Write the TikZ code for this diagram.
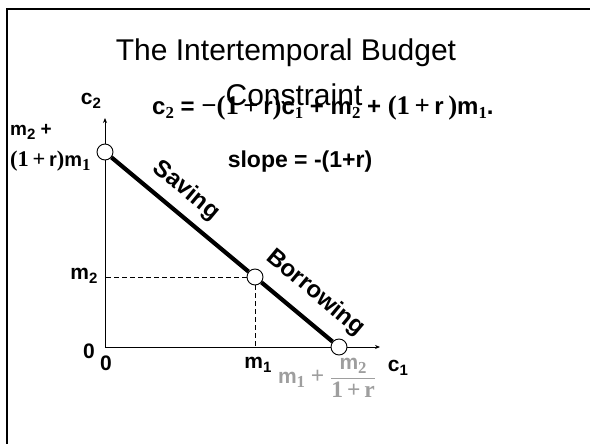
\documentclass[tikz,border=0pt]{standalone}
\usepackage{fontspec}
\setmainfont{Liberation Sans}
\newfontfamily\tnr{Liberation Serif}[Scale=1.12]
\usetikzlibrary{positioning, arrows.meta}
\tikzset{
  lbl/.style={font=\fontsize{21}{23}\selectfont\bfseries, inner sep=0pt},
  small/.style={font=\fontsize{19}{21}\selectfont\bfseries},
  slopelbl/.style={lbl, font=\fontsize{24}{26}\selectfont\bfseries, sloped},
  titlefont/.style={font=\fontsize{30}{36}\selectfont, inner sep=0pt, anchor=base},
  pt/.style={circle, draw=black, fill=white, minimum size=16pt, inner sep=0pt, line width=0.9pt},
  axis/.style={-{Stealth[length=5pt,width=4pt]}, line width=0.9pt},
  budget/.style={line width=4.2pt},
  guide/.style={dash pattern=on 5pt off 3pt, line width=0.9pt},
}
\newcommand{\sbs}[1]{\raisebox{-0.35ex}{\fontsize{15}{16}\selectfont #1}}

\begin{document}
\begin{tikzpicture}[x=1pt, y=-1pt]
  \useasboundingbox (0,0) rectangle (590,444);
  % slide frame
  \draw[line width=2.5pt] (590,9) -- (7,9) -- (7,444);
  % title
  \node[titlefont] (title1) at (286,61) {The Intertemporal Budget};
  \node[titlefont] (title2) at (294,106) {Constraint};
  % axes
  \coordinate (O) at (105,347);
  \coordinate (ytip) at (105,118);
  \coordinate (xtip) at (380,347);
  \draw[axis] (O) -- (ytip);
  \draw[axis] (O) -- (xtip);
  % points on the constraint
  \node[pt] (top) at (105,152) {};
  \node[pt] (mid) at (255,277) {};
  \node[pt] (end) at (339,347) {};
  \draw[guide] (mid.west) -- (O |- mid);
  \draw[guide] (mid.south) -- (O -| mid);
  \draw[budget] (top) -- node[slopelbl, pos=0.44, above=9pt] {Saving}
                (mid) -- node[slopelbl, pos=0.52, above=13pt] {Borrowing} (end);
  % labels
  \node[lbl] (c2) at (91,101) {c\sbs{2}};
  \node[lbl] (c1) at (398,368) {c\sbs{1}};
  \node[lbl, font=\fontsize{24}{26}\selectfont\bfseries, anchor=west] (eq) at (152,108)
    {c\sbs{\tnr 2} = {\tnr\textminus(1\,+\,}r{\tnr)}c\sbs{\tnr 1} + m\sbs{\tnr 2} + {\tnr(1\,+\,}r{\tnr\,)}m\sbs{\tnr 1}.};
  \node[lbl, font=\fontsize{23}{25}\selectfont\bfseries] (slope) at (300,162) {slope = -(1+r)};
  \node[lbl, small, anchor=west] (m2p) at (10,132) {m\sbs{2} +};
  \node[lbl, font=\fontsize{20}{22}\selectfont\bfseries, anchor=west] (m2r) at (10,161)
    {{\tnr(1\,+\,}r{\tnr)}m\sbs{\tnr 1}};
  \node[lbl] (m2) at (84,276) {m\sbs{2}};
  \node[lbl] (zy) at (89,351) {0};
  \node[lbl] (zx) at (106,363) {0};
  \node[lbl] (m1) at (258,365) {m\sbs{1}};
  \node[lbl, text=black!38, font=\fontsize{21}{23}\selectfont\bfseries] (xint) at (327,378)
    {m\sbs{\tnr 1} {\tnr +} $\displaystyle\frac{\mbox{m\sbs{\tnr 2}}}{\mbox{\tnr 1\,+\,r}}$};
\end{tikzpicture}
\end{document}
